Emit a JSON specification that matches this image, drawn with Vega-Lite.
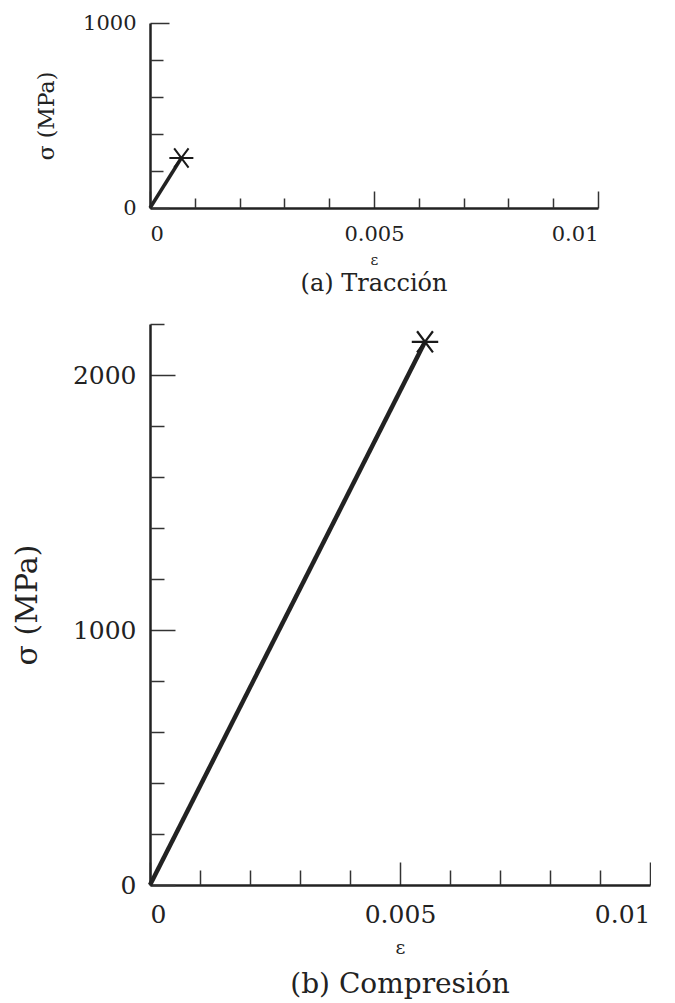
{
  "$schema": "https://vega.github.io/schema/vega-lite/v6.json",
  "padding": {"left": 12, "top": 12, "right": 0, "bottom": 0},
  "background": "white",
  "spacing": 27,
  "config": {
    "view": {"stroke": null},
    "font": "DejaVu Serif",
    "axis": {"grid": false, "domainColor": "#222222", "tickColor": "#333333", "labelColor": "#222222", "titleColor": "#222222", "labelFont": "DejaVu Serif", "titleFont": "DejaVu Serif", "titleFontWeight": "normal"},
    "title": {"font": "DejaVu Serif", "fontWeight": "normal", "color": "#222222"}
  },
  "datasets": {
    "traccion": [{"eps": 0, "sigma": 0}, {"eps": 0.0007, "sigma": 270}],
    "compresion": [{"eps": 0, "sigma": 0}, {"eps": 0.0055, "sigma": 2130}]
  },
  "vconcat": [
    {
      "width": 448,
      "height": 185,
      "data": {"name": "traccion"},
      "title": {"text": "(a) Tracción", "orient": "bottom", "fontSize": 24, "offset": 5},
      "resolve": {"axis": {"x": "independent", "y": "independent"}},
      "layer": [
        {
          "mark": {"type": "line", "color": "#222222", "strokeWidth": 3.5},
          "encoding": {
            "x": {"field": "eps", "type": "quantitative", "scale": {"domain": [0, 0.01], "nice": false},
              "axis": {"orient": "bottom", "values": [0, 0.005, 0.01], "format": "~g", "tickSize": -17, "labelPadding": 32, "labelFontSize": 21, "title": "ε", "titleFontSize": 15, "titlePadding": 8, "domainWidth": 2.5, "tickWidth": 1.5}},
            "y": {"field": "sigma", "type": "quantitative", "scale": {"domain": [0, 1000], "nice": false},
              "axis": {"orient": "left", "values": [0, 1000], "format": "d", "tickSize": -19, "labelPadding": 33, "labelFontSize": 21, "title": "σ (MPa)", "titleFontSize": 22, "titlePadding": 24, "domainWidth": 2.5, "tickWidth": 1.5}}
          }
        },
        {
          "transform": [{"filter": "datum.sigma > 0"}],
          "mark": {"type": "point", "shape": "M-1,0L1,0M-0.6,-0.8L0.6,0.8M-0.6,0.8L0.6,-0.8", "filled": false, "stroke": "#1a1a1a", "strokeWidth": 2, "size": 576, "opacity": 1},
          "encoding": {
            "x": {"field": "eps", "type": "quantitative", "scale": {"domain": [0, 0.01], "nice": false},
              "axis": {"orient": "bottom", "values": [0.001, 0.002, 0.003, 0.004, 0.006, 0.007, 0.008, 0.009], "labels": false, "domain": false, "tickSize": -10, "tickWidth": 1.5, "title": null}},
            "y": {"field": "sigma", "type": "quantitative", "scale": {"domain": [0, 1000], "nice": false},
              "axis": {"orient": "left", "values": [200, 400, 600, 800], "labels": false, "domain": false, "tickSize": -13, "tickWidth": 1.5, "title": null}}
          }
        }
      ]
    },
    {
      "width": 500,
      "height": 561,
      "data": {"name": "compresion"},
      "title": {"text": "(b) Compresión", "orient": "bottom", "fontSize": 28, "offset": 14},
      "resolve": {"axis": {"x": "independent", "y": "independent"}},
      "layer": [
        {
          "mark": {"type": "line", "color": "#222222", "strokeWidth": 4.5},
          "encoding": {
            "x": {"field": "eps", "type": "quantitative", "scale": {"domain": [0, 0.01], "nice": false},
              "axis": {"orient": "bottom", "values": [0, 0.005, 0.01], "format": "~g", "tickSize": -23, "labelPadding": 40, "labelFontSize": 25, "title": "ε", "titleFontSize": 19, "titlePadding": 11, "domainWidth": 2.5, "tickWidth": 1.5}},
            "y": {"field": "sigma", "type": "quantitative", "scale": {"domain": [0, 2200], "nice": false},
              "axis": {"orient": "left", "values": [0, 1000, 2000], "format": "d", "tickSize": -25, "labelPadding": 39, "labelFontSize": 25, "title": "σ (MPa)", "titleFontSize": 30, "titlePadding": 30, "domainWidth": 2.5, "tickWidth": 1.5}}
          }
        },
        {
          "transform": [{"filter": "datum.sigma > 0"}],
          "mark": {"type": "point", "shape": "M-1,0L1,0M-0.6,-0.8L0.6,0.8M-0.6,0.8L0.6,-0.8", "filled": false, "stroke": "#1a1a1a", "strokeWidth": 2.2, "size": 700, "opacity": 1},
          "encoding": {
            "x": {"field": "eps", "type": "quantitative", "scale": {"domain": [0, 0.01], "nice": false},
              "axis": {"orient": "bottom", "values": [0.001, 0.002, 0.003, 0.004, 0.006, 0.007, 0.008, 0.009], "labels": false, "domain": false, "tickSize": -15, "tickWidth": 1.5, "title": null}},
            "y": {"field": "sigma", "type": "quantitative", "scale": {"domain": [0, 2200], "nice": false},
              "axis": {"orient": "left", "values": [200, 400, 600, 800, 1200, 1400, 1600, 1800, 2200], "labels": false, "domain": false, "tickSize": -14, "tickWidth": 1.5, "title": null}}
          }
        }
      ]
    }
  ]
}
